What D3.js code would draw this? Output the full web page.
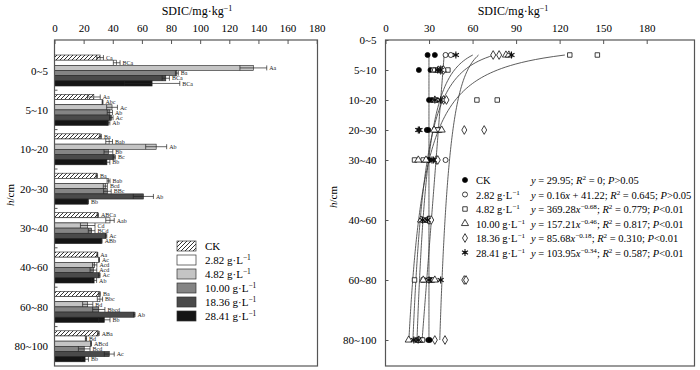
<!DOCTYPE html>
<html><head><meta charset="utf-8">
<script src="https://cdn.jsdelivr.net/npm/d3@7"></script>
<style>body{margin:0;background:#fff}svg{font-family:"Liberation Serif","Times New Roman",serif}</style>
</head><body>
<svg id="c" width="700" height="370"></svg>
<script>
// ---------- data ----------
const layers = ["0~5","5~10","10~20","20~30","30~40","40~60","60~80","80~100"];
const layerDepth = [5,10,20,30,40,60,80,100];
const depthTicks = [0,10,20,30,40,60,80,100];
const treatments = ["CK","2.82","4.82","10.00","18.36","28.41"];
const leftTicks = [0,20,40,60,80,100,120,140,160,180];
const rightTicks = [0,30,60,90,120,150,180];

// mean SDIC per layer
const meanCK   = [31.3,27,31.5,29,29.7,29.4,30.8,30.1];
const mean282  = [42.7,33,37.5,37.1,38.1,30.6,31.2,21.6];
const mean482  = [136.5,39.5,69.8,34.9,22.8,27.6,22.8,25.1];
const mean1000 = [84,38,37,36.3,25.5,26.7,30.4,20.4];
const mean1836 = [76.4,39,41,61,35.4,30.8,54.8,37.6];
const mean2841 = [67,37,36,23,32.4,27.2,34.2,21];
// standard errors
const seCK   = [2.3,4.4,0.7,0.5,0.5,0.3,0.7,0.6];
const se282  = [2.3,0.3,2.3,1,2.9,0.3,1.8,0.4];
const se482  = [9.2,3.7,7.2,1.4,5,1.5,3.5,0.3];
const se1000 = [1,1.8,3,2.6,2.3,2.3,4.2,4];
const se1836 = [2.5,1.2,0.8,6.9,0.5,0.5,0.5,3.4];
const se2841 = [19,1,2,0.3,0.3,1.7,3.9,2.3];
// significance letters
const letCK   = ["Ca","Aa","Ba","Ba","ABCa","Aa","Ba","ABa"];
const let282  = ["BCa","Abc","Bab","Bab","Aab","Ac","Bbc","Bd"];
const let482  = ["Aa","Ac","Ab","Bcd","Cd","Acd","Bd","ABcd"];
const let1000 = ["Ba","Ab","Bb","BBc","BCd","Acd","Bbcd","Bcd"];
const let1836 = ["BCa","Ac","Bc","Ab","Ac","Ac","Ab","Ac"];
const let2841 = ["BCa","Ab","Bb","Bb","ABb","Ab","Bb","Bb"];

// individual observations (right panel)
const obsCK   = [[29,34],[23,31],[30,32],[28.5,29.5],[29.5,30],[29,30],[30,31.5],[29.5,30.5]];
const obs282  = [[41.4,45],[33,34],[35.5,39.5],[36,38],[35,41.4],[30,31],[29.5,33],[21,22.5]];
const obs482  = [[127,146],[36,43],[63,77],[34,36],[20,26],[26,29],[20,26],[24.5,25.5]];
const obs1000 = [[83,85],[36.5,39.5],[34,40],[33.5,38.7],[22.6,27.9],[24.5,29],[26,34],[16,23]];
const obs1836 = [[74.2,78.3],[38,40],[40,42],[54.3,68],[35,36],[30,31.5],[54.3,55.5],[34,41]];
const obs2841 = [[48.5,86.8],[36,38],[34,38],[22.6,23.4],[32,33],[25.5,29],[30,38],[19.5,22.5]];

// fitted curves y = a*x^b (power), a + b*x (linear, as drawn), a (constant)
const fitType = ["const","linear","power","power","power","power"];
const fitA = [29.95,41.22,369.28,157.21,85.68,103.95];
const fitB = [0,-0.16,-0.68,-0.46,-0.18,-0.34];
const fitText = [
 "*y* = 29.95; *R*^2^ = 0; *P*>0.05",
 "*y* = 0.16*x* + 41.22; *R*^2^ = 0.645; *P*>0.05",
 "*y* = 369.28*x*^−0.68^; *R*^2^ = 0.779; *P*<0.01",
 "*y* = 157.21*x*^−0.46^; *R*^2^ = 0.817; *P*<0.01",
 "*y* = 85.68*x*^−0.18^; *R*^2^ = 0.310; *P*<0.01",
 "*y* = 103.95*x*^−0.34^; *R*^2^ = 0.587; *P*<0.01"
];

// ---------- setup ----------
const means=[meanCK,mean282,mean482,mean1000,mean1836,mean2841];
const ses=[seCK,se282,se482,se1000,se1836,se2841];
const lets=[letCK,let282,let482,let1000,let1836,let2841];
const obs=[obsCK,obs282,obs482,obs1000,obs1836,obs2841];
const fills=["url(#hatch)","#ffffff","#c4c4c4","#848484","#4a4a4a","#151515"];
const frameCol="#555";

const svg=d3.select("#c");
const defs=svg.append("defs");
const pat=defs.append("pattern").attr("id","hatch").attr("patternUnits","userSpaceOnUse")
  .attr("width",4).attr("height",4);
pat.append("rect").attr("width",4).attr("height",4).attr("fill","#fff");
pat.append("path").attr("d","M-1,5 L5,-1 M-1,1 L1,-1 M3,5 L5,3").attr("stroke","#000").attr("stroke-width",0.8);

function rich(textSel,str,fs){
  const parts=str.split(/(\*[^*]+\*|\^[^^]+\^)/).filter(s=>s.length);
  let up=false;
  parts.forEach(p=>{
    const t=textSel.append("tspan");
    if(p[0]==="*"){ t.text(p.slice(1,-1)).attr("font-style","italic"); if(up){t.attr("dy",4);up=false;} }
    else if(p[0]==="^"){ t.text(p.slice(1,-1)).attr("font-size",fs*0.68).attr("dy",up?0:-4); up=true; }
    else { t.text(p); if(up){t.attr("dy",4);up=false;} }
  });
}

// ---------- LEFT PANEL ----------
const L={x0:54.5,x1:317.5,y0:40,y1:366};
const xL=d3.scaleLinear().domain([0,180]).range([54.5,316.7]);
const yG=d3.scaleBand().domain(layers).range([55,361.8]).paddingInner(0.213).paddingOuter(0).align(0);
const yB=d3.scaleBand().domain(treatments).range([0,yG.bandwidth()]);

const axL=d3.axisTop(xL).tickValues(leftTicks).tickSize(-4).tickPadding(8);
const gL=svg.append("g").attr("transform",`translate(0,${L.y0})`).call(axL);
gL.select(".domain").remove();
gL.selectAll(".tick line").attr("stroke",frameCol);
gL.selectAll(".tick text").attr("font-size",11).attr("font-family","Liberation Serif").attr("fill","#000");

treatments.forEach((t,ti)=>{
  const g=svg.append("g");
  layers.forEach((ly,li)=>{
    const y=yG(ly)+yB(t), h=yB.bandwidth(), m=means[ti][li], s=ses[ti][li];
    g.append("rect").attr("x",xL(0)).attr("y",y).attr("width",xL(m)-xL(0)).attr("height",h)
      .attr("fill",fills[ti]).attr("stroke","#222").attr("stroke-width",0.6);
    const cy=y+h/2;
    const e=g.append("g").attr("stroke","#222").attr("stroke-width",0.7).attr("fill","none");
    e.append("line").attr("x1",xL(m-s)).attr("x2",xL(m+s)).attr("y1",cy).attr("y2",cy);
    e.append("line").attr("x1",xL(m-s)).attr("x2",xL(m-s)).attr("y1",cy-2.5).attr("y2",cy+2.5);
    e.append("line").attr("x1",xL(m+s)).attr("x2",xL(m+s)).attr("y1",cy-2.5).attr("y2",cy+2.5);
    g.append("text").attr("x",xL(m+s)+2.5).attr("y",cy+2.2).attr("font-size",6).attr("fill","#222").text(lets[ti][li]);
  });
});

svg.append("rect").attr("x",L.x0).attr("y",L.y0).attr("width",L.x1-L.x0).attr("height",L.y1-L.y0)
  .attr("fill","none").attr("stroke",frameCol).attr("stroke-width",1.2);
layers.forEach((ly,li)=>{
  svg.append("text").attr("x",48).attr("y",yG(ly)+yG.bandwidth()/2+4).attr("text-anchor","end")
    .attr("font-size",11).text(ly);
  if(li>0){ const ty=yG(ly)-yG.step()*0.213/2;
    svg.append("line").attr("x1",L.x0).attr("x2",L.x0+3).attr("y1",ty).attr("y2",ty).attr("stroke",frameCol);}
});
const tl=svg.append("text").attr("x",197).attr("y",15).attr("text-anchor","middle").attr("font-size",12);
rich(tl,"SDIC/mg·kg^−1^",12);
const hl=svg.append("text").attr("transform","translate(14,195) rotate(-90)").attr("text-anchor","middle").attr("font-size",11);
rich(hl,"*h*/cm",11);

treatments.forEach((t,ti)=>{
  const cy=246+ti*14;
  svg.append("rect").attr("x",177).attr("y",cy-5).attr("width",19).attr("height",10)
    .attr("fill",fills[ti]).attr("stroke","#333").attr("stroke-width",0.7);
  const tx=svg.append("text").attr("x",205).attr("y",cy+4).attr("font-size",11);
  rich(tx, ti===0?"CK":t+" g·L^−1^",11);
});

// ---------- RIGHT PANEL ----------
const R={x0:385.5,x1:694.5,y0:40,y1:366};
const xR=d3.scaleLinear().domain([0,180]).range([385.5,646.7]);
const yR=d3.scaleLinear().domain([0,100]).range([40,340]);

const axR=d3.axisTop(xR).tickValues(rightTicks).tickSize(-4).tickPadding(8);
const gR=svg.append("g").attr("transform",`translate(0,${R.y0})`).call(axR);
gR.select(".domain").remove();
gR.selectAll(".tick line").attr("stroke",frameCol);
gR.selectAll(".tick text").attr("font-size",11).attr("font-family","Liberation Serif").attr("fill","#000");

const axRy=d3.axisLeft(yR).tickValues(depthTicks).tickFormat((d,i)=>layers[i]).tickSize(-3).tickPadding(9);
const gRy=svg.append("g").attr("transform",`translate(${R.x0},0)`).call(axRy);
gRy.select(".domain").remove();
gRy.selectAll(".tick line").attr("stroke",frameCol);
gRy.selectAll(".tick text").attr("font-size",11).attr("font-family","Liberation Serif").attr("fill","#000");

svg.append("rect").attr("x",R.x0).attr("y",R.y0).attr("width",R.x1-R.x0).attr("height",R.y1-R.y0)
  .attr("fill","none").attr("stroke",frameCol).attr("stroke-width",1.2);

const tr=svg.append("text").attr("x",513).attr("y",15).attr("text-anchor","middle").attr("font-size",12);
rich(tr,"SDIC/mg·kg^−1^",12);
const hr=svg.append("text").attr("transform","translate(337,197) rotate(-90)").attr("text-anchor","middle").attr("font-size",11);
rich(hr,"*h*/cm",11);

const depthRange=d3.range(5,100.01,0.5);
const line=d3.line().x(d=>xR(d[1])).y(d=>yR(d[0]));
fitType.forEach((ft,i)=>{
  const pts=depthRange.map(d=>[d, ft==="const"?fitA[i]: ft==="linear"? fitA[i]+fitB[i]*d : fitA[i]*Math.pow(d,fitB[i])]);
  svg.append("path").attr("d",line(pts)).attr("fill","none").attr("stroke","#333").attr("stroke-width",0.8);
});

const symTypes=[d3.symbolCircle,d3.symbolCircle,d3.symbolSquare,d3.symbolTriangle,d3.symbolDiamond,d3.symbolAsterisk];
function drawSym(g,ti,x,y){
  if(ti===5){
    g.append("path").attr("d",d3.symbol(d3.symbolAsterisk,34)()).attr("transform",`translate(${x},${y})`)
      .attr("fill","none").attr("stroke","#111").attr("stroke-width",1.1);
    g.append("circle").attr("cx",x).attr("cy",y).attr("r",1.4).attr("fill","#111");
  } else {
    const sz=[20,20,20,22,22][ti];
    g.append("path").attr("d",d3.symbol(symTypes[ti],sz)()).attr("transform",`translate(${x},${y})`)
      .attr("fill",ti===0?"#000":"#fff").attr("stroke","#111").attr("stroke-width",0.8);
  }
}
const gp=svg.append("g");
obs.forEach((arr,ti)=>{
  arr.forEach((vals,li)=>{
    vals.forEach(v=>drawSym(gp,ti,xR(v),yR(layerDepth[li])));
  });
});

treatments.forEach((t,ti)=>{
  const cy=180+ti*14.5;
  drawSym(svg,ti,465,cy);
  const tx=svg.append("text").attr("x",476).attr("y",cy+4).attr("font-size",10.5);
  rich(tx, ti===0?"CK":t+" g·L^−1^",10.5);
  const te=svg.append("text").attr("x",531).attr("y",cy+4).attr("font-size",10.5);
  rich(te, fitText[ti],10.5);
});
</script>
</body></html>
